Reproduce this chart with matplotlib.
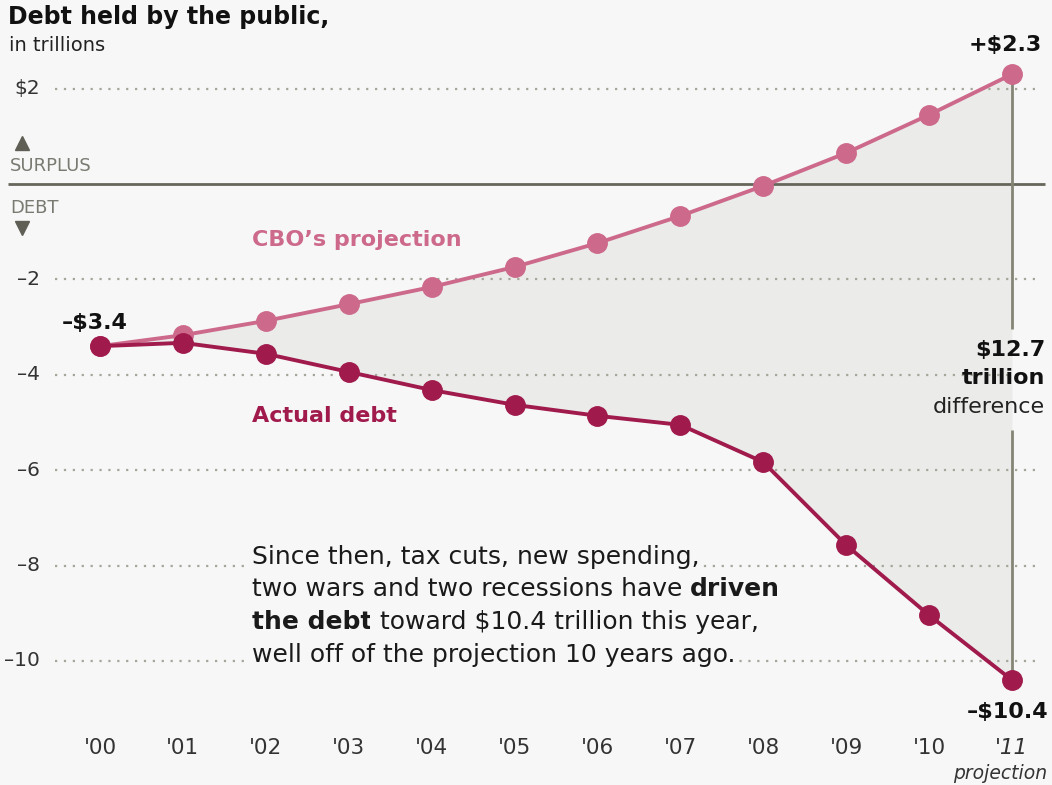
import matplotlib
matplotlib.use("Agg")
import matplotlib.pyplot as plt
import numpy as np

# data, trillions of dollars (surplus positive, debt negative)
years = ["'00", "'01", "'02", "'03", "'04", "'05", "'06", "'07", "'08", "'09", "'10", "'11"]
cbo_projection = [-3.4, -3.17, -2.87, -2.52, -2.16, -1.74, -1.24, -0.67, -0.04, 0.65, 1.45, 2.3]
actual_debt = [-3.4, -3.33, -3.56, -3.94, -4.32, -4.63, -4.86, -5.05, -5.83, -7.57, -9.04, -10.4]
grid_values = [2, -2, -4, -6, -8, -10]
grid_labels = ["$2", "\u20132", "\u20134", "\u20136", "\u20138", "\u201310"]

BG = "#f7f7f7"
PINK = "#cd6a8c"
DARK = "#a01a4c"
GRID = "#a5a59a"
AXIS = "#66665a"

plt.rcParams["font.family"] = ["DejaVu Sans"]

fig = plt.figure(figsize=(10.52, 7.85), dpi=100, facecolor=BG)
ax = fig.add_axes([0, 0, 1, 1])
ax.set_facecolor(BG)
ax.set_xlim(-1.206, 11.483)
ax.set_ylim(-12.6, 3.857)
ax.axis("off")

x = np.arange(len(years))

# gap between the lines
ax.fill_between(x, cbo_projection, actual_debt, color="#ebebea", linewidth=0, zorder=0.5)

# gridlines + labels
for v, lab in zip(grid_values, grid_labels):
    ax.hlines(v, -0.54, 11.34, colors=GRID, linestyles=(0, (1, 3)), linewidth=1.6, zorder=1)
    ax.text(-0.72, v, lab, ha="right", va="center", fontsize=14.5, color="#333333")

# zero line
ax.hlines(0, -1.11, 11.4, colors=AXIS, linewidth=2, zorder=2)
ax.text(-1.086, 0.38, "SURPLUS", ha="left", va="center", fontsize=13, color="#7a7a72")
ax.text(-1.086, -0.5, "DEBT", ha="left", va="center", fontsize=13, color="#7a7a72")
ax.plot(-0.94, 0.86, marker="^", markersize=10, color="#5f5f55", linestyle="none")
ax.plot(-0.94, -0.92, marker="v", markersize=10, color="#5f5f55", linestyle="none")

# difference marker at 2011
ax.vlines(11, -3.05, cbo_projection[-1], colors="#858576", linewidth=2, zorder=2)
ax.vlines(11, actual_debt[-1], -5.15, colors="#858576", linewidth=2, zorder=2)

ax.plot(x, cbo_projection, color=PINK, linewidth=2.8, marker="o", markersize=14, zorder=3)
ax.plot(x, actual_debt, color=DARK, linewidth=2.8, marker="o", markersize=14, zorder=4)

# x labels
for i, y in enumerate(years):
    ax.text(i, -11.82, y, ha="center", va="center", fontsize=15.5, color="#333333",
            style="italic" if i == len(years) - 1 else "normal")
ax.text(11.42, -12.36, "projection", ha="right", va="center", fontsize=13.5,
        style="italic", color="#333333")

# titles
fig.text(8 / 1052, 1 - 5 / 785, "Debt held by the public,", ha="left", va="top",
         fontsize=17, fontweight="bold", color="#111111")
fig.text(9 / 1052, 1 - 36 / 785, "in trillions", ha="left", va="top",
         fontsize=14, color="#222222")

# annotations
ax.text(10.92, 2.91, "+$2.3", ha="center", va="center", fontsize=16, fontweight="bold", color="#111111")
ax.text(-0.06, -2.91, "\u2013$3.4", ha="center", va="center", fontsize=16, fontweight="bold", color="#111111")
ax.text(11.44, -11.07, "\u2013$10.4", ha="right", va="center", fontsize=16, fontweight="bold", color="#111111")
ax.text(11.4, -3.48, "$12.7", ha="right", va="center", fontsize=16, fontweight="bold", color="#111111")
ax.text(11.4, -4.07, "trillion", ha="right", va="center", fontsize=16, fontweight="bold", color="#111111")
ax.text(11.4, -4.68, "difference", ha="right", va="center", fontsize=16, color="#222222")
ax.text(1.83, -1.17, "CBO\u2019s projection", ha="left", va="center", fontsize=16,
        fontweight="bold", color=PINK)
ax.text(1.83, -4.86, "Actual debt", ha="left", va="center", fontsize=16,
        fontweight="bold", color=DARK)

# paragraph with bold runs
paragraph = [
    [("Since then, tax cuts, new spending,", "normal")],
    [("two wars and two recessions have ", "normal"), ("driven", "bold")],
    [("the debt", "bold"), (" toward $10.4 trillion this year,", "normal")],
    [("well off of the projection 10 years ago.", "normal")],
]
line_y = [-7.82, -8.49, -9.18, -9.87]
box = dict(facecolor=BG, edgecolor="none", pad=1.5)
for parts, ly in zip(paragraph, line_y):
    prev = None
    for txt, wt in parts:
        if prev is None:
            prev = ax.text(1.83, ly, txt, ha="left", va="center", fontsize=18,
                           fontweight=wt, color="#1a1a1a", bbox=box, zorder=5)
        else:
            prev = ax.annotate(txt, xy=(1, 0.5), xycoords=prev, ha="left", va="center",
                               fontsize=18, fontweight=wt, color="#1a1a1a", bbox=box, zorder=5)

fig.savefig("out.png", dpi=100, facecolor=BG)
